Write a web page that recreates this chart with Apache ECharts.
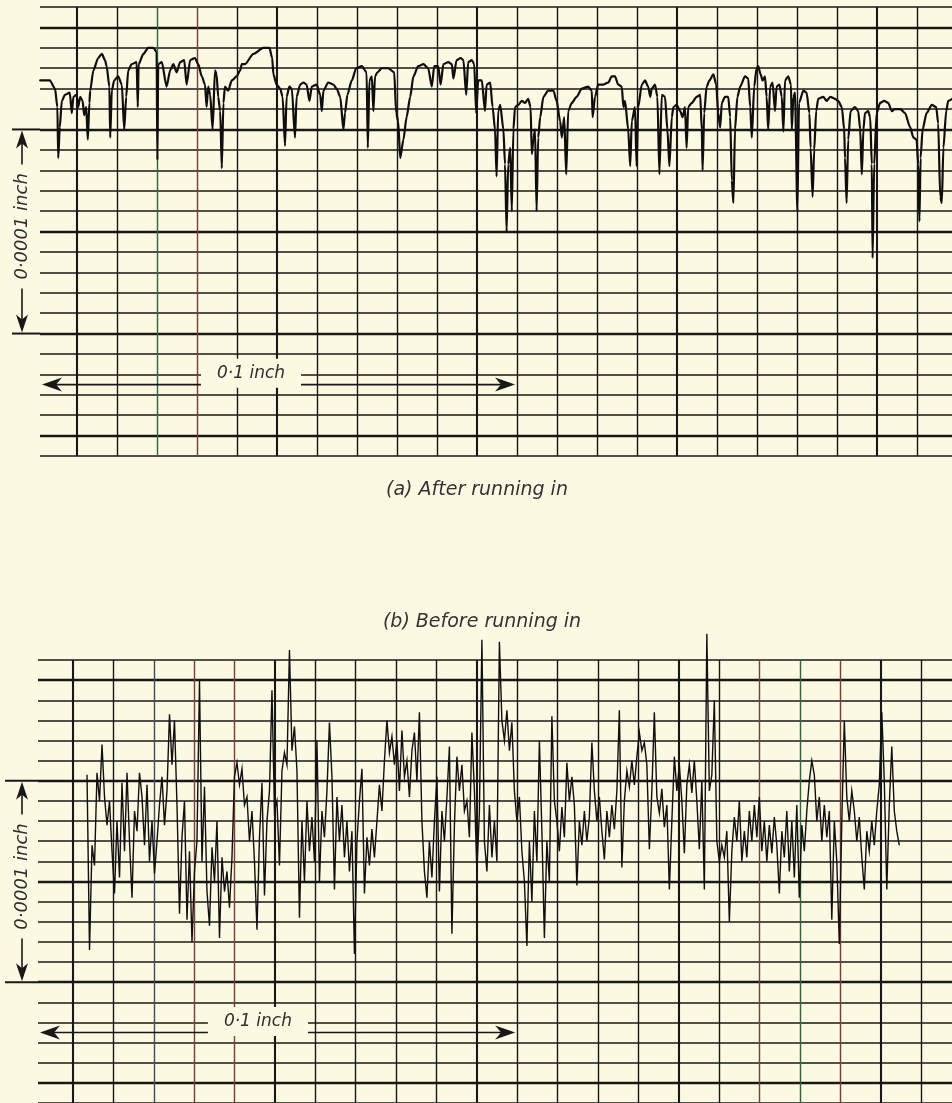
<!DOCTYPE html>
<html><head><meta charset="utf-8">
<script src="https://cdn.jsdelivr.net/npm/echarts@6/dist/echarts.min.js"></script>
<style>html,body{margin:0;padding:0;background:#fbf9e2;}#c{width:952px;height:1103px;}</style>
</head><body><div id="c"></div>
<script>
// ---- DATA (x in graph-paper divisions, y in micro-inches; 10 µin per division) ----
const TOP_PROFILE = [[-0.92,24],[-0.68,24],[-0.55,20],[-0.49,11],[-0.47,-14],[-0.43,1],[-0.38,14],[-0.30,17],[-0.18,18],[-0.13,8],[-0.09,16],[-0.01,17],[0.03,11],[0.08,16],[0.14,14],[0.18,7],[0.23,11],[0.27,-5],[0.31,13],[0.33,19],[0.41,29],[0.53,35],[0.62,37],[0.70,34],[0.74,31],[0.81,21],[0.83,-4],[0.87,19],[0.93,24],[1.03,26],[1.12,22],[1.18,0],[1.23,16],[1.28,29],[1.37,32],[1.49,33],[1.52,11],[1.54,32],[1.66,37],[1.78,40],[1.91,40],[1.99,38],[2.01,-15],[2.03,32],[2.12,33],[2.24,21],[2.33,29],[2.41,32],[2.49,28],[2.58,33],[2.68,34],[2.74,22],[2.83,34],[2.95,35],[3.03,32],[3.12,26],[3.20,22],[3.24,11],[3.28,21],[3.33,17],[3.39,0],[3.45,29],[3.49,27],[3.53,16],[3.58,9],[3.62,-19],[3.66,13],[3.70,21],[3.78,19],[3.87,24],[3.99,26],[4.08,29],[4.12,32],[4.20,32],[4.41,37],[4.66,40],[4.81,40],[4.88,35],[4.91,27],[4.99,22],[5.08,20],[5.14,16],[5.20,-8],[5.24,16],[5.31,21],[5.37,20],[5.45,-4],[5.49,16],[5.58,22],[5.66,23],[5.74,22],[5.81,14],[5.87,21],[5.99,22],[6.08,17],[6.12,9],[6.16,19],[6.28,23],[6.41,22],[6.49,20],[6.58,16],[6.66,0],[6.70,8],[6.76,17],[6.87,24],[6.98,30],[7.12,31],[7.24,28],[7.27,-9],[7.31,24],[7.37,26],[7.41,9],[7.45,26],[7.51,28],[7.62,30],[7.78,30],[7.93,28],[7.98,8],[8.03,4],[8.08,-14],[8.16,-5],[8.24,6],[8.33,16],[8.41,26],[8.53,31],[8.66,32],[8.78,30],[8.87,21],[8.93,31],[9.03,31],[9.09,22],[9.16,32],[9.28,33],[9.37,32],[9.41,25],[9.49,34],[9.59,35],[9.66,34],[9.73,17],[9.78,33],[9.87,34],[9.93,32],[9.98,8],[10.03,24],[10.12,24],[10.20,9],[10.24,22],[10.33,23],[10.39,11],[10.45,0],[10.49,-23],[10.53,9],[10.58,12],[10.66,0],[10.70,-17],[10.74,-50],[10.78,-17],[10.83,-9],[10.87,-40],[10.91,0],[10.95,11],[11.03,12],[11.12,14],[11.20,13],[11.28,15],[11.34,11],[11.37,-12],[11.41,-5],[11.45,0],[11.49,-40],[11.53,-4],[11.58,6],[11.66,16],[11.78,19],[11.91,19],[11.99,14],[12.08,4],[12.12,-4],[12.18,6],[12.23,-22],[12.28,9],[12.37,13],[12.49,16],[12.62,20],[12.78,21],[12.87,19],[12.89,6],[12.95,16],[13.03,22],[13.16,22],[13.28,23],[13.37,26],[13.45,26],[13.53,22],[13.62,21],[13.66,11],[13.70,14],[13.78,0],[13.83,-18],[13.87,4],[13.95,11],[13.99,-18],[14.03,11],[14.12,22],[14.20,24],[14.28,21],[14.33,16],[14.37,20],[14.45,22],[14.51,16],[14.56,-22],[14.62,17],[14.70,16],[14.76,0],[14.81,-18],[14.87,6],[14.91,11],[14.99,12],[15.08,9],[15.14,6],[15.20,11],[15.24,-9],[15.28,11],[15.37,13],[15.49,16],[15.58,17],[15.62,0],[15.64,-20],[15.68,8],[15.74,21],[15.81,24],[15.91,27],[15.98,22],[16.03,8],[16.08,1],[16.12,13],[16.20,16],[16.28,16],[16.33,6],[16.37,-25],[16.41,-36],[16.45,0],[16.51,16],[16.58,21],[16.70,26],[16.78,25],[16.83,11],[16.87,-4],[16.93,21],[16.99,30],[17.03,31],[17.09,27],[17.14,24],[17.20,26],[17.24,16],[17.28,0],[17.33,21],[17.39,23],[17.45,9],[17.49,21],[17.56,22],[17.62,16],[17.66,-1],[17.70,24],[17.78,26],[17.85,22],[17.87,0],[17.91,16],[17.95,18],[18.01,-40],[18.05,13],[18.16,19],[18.24,18],[18.31,8],[18.34,-9],[18.39,-33],[18.43,-10],[18.48,9],[18.53,15],[18.66,16],[18.74,14],[18.83,16],[18.95,15],[19.03,14],[19.12,11],[19.18,0],[19.20,-14],[19.24,-36],[19.28,-5],[19.34,9],[19.45,11],[19.53,9],[19.58,0],[19.62,-22],[19.66,0],[19.70,8],[19.78,9],[19.83,6],[19.87,-17],[19.89,-63],[19.93,-17],[19.99,8],[20.08,13],[20.18,14],[20.28,13],[20.37,9],[20.45,10],[20.58,10],[20.70,8],[20.83,1],[20.91,-4],[20.99,-5],[21.03,-17],[21.06,-45],[21.09,-14],[21.14,0],[21.24,8],[21.37,12],[21.48,11],[21.53,3],[21.58,-33],[21.62,-36],[21.66,-9],[21.73,9],[21.78,14],[21.88,15]];

// bottom trace: uniformly sampled stylus record, start position and step in divisions
const BOTTOM_X0 = 0.347;
const BOTTOM_DX = 0.0619;
const BOTTOM_PROFILE = [3,-84,-32,-42, 4,-10,18,-8, -22,-10,-35,-56, -20,-48,-1,-35, 4,-30,-58,-15, -25,4,-8,-32, -2,-40,-20,-46, -30,-12,2,-22, -5,33,8,30, -12,-66,-28,-10, -69,-35,-80,-45, -30,50,-40,-3, -55,-72,-33,-50, -20,-78,-38,-55, -45,-63,-38,2, 9,-2,6,-12, -8,-30,-15,-40, -74,-28,-1,-57, -20,-5,45,-15, -10,-42,5,14, 8,65,15,27, 5,-68,-20,-50, -10,-35,-18,-40, 20,-50,-15,-28, -5,29,2,-54, -8,-30,-12,-38, -20,-45,-25,-86, -30,-10,6,-56, -28,-42,-24,-38, -20,-2,-15,10, 30,14,22,8, 20,-5,25,2, 10,-8,15,24, 0,34,-20,-45, -58,-30,-48,-20, 2,-55,-15,-30, -8,17,-76,-22, 12,-5,8,-15, -10,-28,24,-5, -45,-15,70,-30, -45,-12,-38,-20, -40,69,30,20, 35,15,29,-5, -20,-8,-35,-50, -82,-30,-60,-15, -40,20,-25,-78, -30,-50,32,-10, -20,-35,-13,-28, 9,-10,2,-12, -52,-20,-32,-15, -30,-18,19,-5, -20,-8,-25,-39, -15,-28,-12,-24, -5,35,-43,-10, 5,-3,10,-2, 12,24,15,19, 8,-34,-5,34, -8,-16,-4,-23, -12,-54,-20,12, -5,8,-10,-36, -2,8,-6,10, -10,-34,0,-54, 73,-5,3,40, -30,-40,-32,-38, -25,-70,-35,-18, -30,-10,-40,-25, -38,-15,-30,-12, -28,-8,-35,-20, -40,-22,-36,-18, -32,-56,-25,-38, -15,-45,-20,-48, -12,-58,-22,-35, -15,0,10,3, -20,-8,-30,-12, -28,-15,-69,-20, -40,-81,-20,30, -8,-20,-5,-15, -30,-18,-38,-54, -25,-35,-20,-32, -15,-2,34,0, -54,-12,17,-15, -25,-32];

// graph paper rulings
const H_LINES = [60,50,40,30,20,10,0,-10,-20,-30,-40,-50,-60,-70,-80,-90,-100,-110,-120,-130,-140,-150,-160];
const V_LINES = [0,1,2,3,4,5,6,7,8,9,10,11,12,13,14,15,16,17,18,19,20,21];
const CAPTIONS = ['(a) After running in', '(b) Before running in'];
const SCALE_V_TEXT = '0·0001 inch';
const SCALE_H_TEXT = '0·1 inch';
const SCALE_H_LABEL_X = [4.35, 4.58];
const SCALE_H_END_X = 10.95;

// ---- STYLE ----
const BG = '#fbf9e2', INK = '#181818', RED = '#7a3d36', GREEN = '#36603f', BLUE = '#3e4c60';
const TINTS = [{2: GREEN, 3: RED}, {2: BLUE, 3: RED, 4: RED, 17: RED, 18: GREEN, 19: RED}];
const PANELS = [
  {left: 40, top: 7, height: 449, xMin: -0.925, xMax: 21.875, ext: 12},
  {left: 38, top: 660, height: 443, xMin: -0.867, xMax: 21.77, ext: 5}
];

function paperLines(p, tint) {
  const d = [];
  H_LINES.forEach(v => d.push({yAxis: v, lineStyle: {color: INK, width: v % 50 === 0 ? 2.3 : 1.5, type: 'solid'}}));
  d.push({xAxis: p.xMin, lineStyle: {color: INK, width: 1.7, type: 'solid'}});
  V_LINES.forEach(k => d.push({xAxis: k, lineStyle: {color: tint[k] || INK, width: k % 5 === 0 ? 2.1 : 1.4, type: 'solid'}}));
  return {silent: true, symbol: 'none', z: 1, animation: false, label: {show: false}, emphasis: {disabled: true}, data: d};
}

const chart = echarts.init(document.getElementById('c'), null, {renderer: 'canvas'});
const bottomData = BOTTOM_PROFILE.map((y, i) => [BOTTOM_X0 + i * BOTTOM_DX, y]);

chart.setOption({
  backgroundColor: BG,
  animation: false,
  grid: PANELS.map(p => ({left: p.left, top: p.top, right: 0, height: p.height})),
  xAxis: PANELS.map((p, i) => ({gridIndex: i, type: 'value', min: p.xMin, max: p.xMax, show: false})),
  yAxis: PANELS.map((p, i) => ({gridIndex: i, type: 'value', min: -160, max: 60, show: false})),
  series: [
    {type: 'line', xAxisIndex: 0, yAxisIndex: 0, data: TOP_PROFILE, symbol: 'none', clip: false, z: 10,
     smooth: 0.25, smoothMonotone: 'x',
     lineStyle: {color: '#0e0e0e', width: 2.2, join: 'round', cap: 'round'}, markLine: paperLines(PANELS[0], TINTS[0])},
    {type: 'line', xAxisIndex: 1, yAxisIndex: 1, data: bottomData, symbol: 'none', clip: false, z: 10,
     lineStyle: {color: '#101010', width: 1.4, join: 'miter'}, markLine: paperLines(PANELS[1], TINTS[1])}
  ]
});

// ---- annotations positioned through the axes ----
const line = (x1, y1, x2, y2, w) => ({type: 'line', silent: true, z: 100, shape: {x1, y1, x2, y2}, style: {stroke: INK, lineWidth: w}});
const poly = pts => ({type: 'polygon', silent: true, z: 100, shape: {points: pts}, style: {fill: INK}});
const FONT_V = 'italic 18px "DejaVu Sans"';
const FONT_H = 'italic 17px "DejaVu Sans"';
const FONT_CAP = 'italic 19px "DejaVu Sans"';
const TEXT_COL = '#2e2e2e';
const els = [];
PANELS.forEach((p, g) => {
  const P = (x, y) => chart.convertToPixel({gridIndex: g}, [x, y]);
  const [gl, y0] = P(p.xMin, 0);
  const y1 = P(p.xMin, -100)[1];
  els.push(line(p.ext, y0, gl, y0, 2), line(p.ext, y1, gl, y1, 2));
  const ax = 22, mid = y0 + (y1 - y0) * 0.475;
  els.push(poly([[ax, y0 + 1], [ax - 6, y0 + 19], [ax, y0 + 14], [ax + 6, y0 + 19]]));
  els.push(line(ax, y0 + 12, ax, mid - 62, 1.6));
  els.push({type: 'text', silent: true, z: 100, x: ax, y: mid, rotation: Math.PI / 2,
            style: {text: SCALE_V_TEXT, font: FONT_V, fill: TEXT_COL, align: 'center', verticalAlign: 'middle'}});
  els.push(line(ax, mid + 62, ax, y1 - 12, 1.6));
  els.push(poly([[ax, y1 - 1], [ax - 6, y1 - 19], [ax, y1 - 14], [ax + 6, y1 - 19]]));
  // horizontal 0.1 inch arrow
  const ya = P(0, -125)[1];
  const xa = gl + 2, xb = P(SCALE_H_END_X, 0)[0];
  els.push(line(xa + 10, ya, xb - 10, ya, 1.7));
  els.push(poly([[xa, ya], [xa + 20, ya - 7], [xa + 14, ya], [xa + 20, ya + 7]]));
  els.push(poly([[xb, ya], [xb - 20, ya - 7], [xb - 14, ya], [xb - 20, ya + 7]]));
  const [lx, ly] = P(SCALE_H_LABEL_X[g], -120);
  els.push({type: 'text', silent: true, z: 100, x: lx, y: ly - 1,
            style: {text: SCALE_H_TEXT, font: FONT_H, fill: TEXT_COL, align: 'center', verticalAlign: 'middle',
                    backgroundColor: BG, padding: [6, 16]}});
});
els.push({type: 'text', silent: true, z: 100, x: 477, y: 490,
          style: {text: CAPTIONS[0], font: FONT_CAP, fill: '#333', align: 'center', verticalAlign: 'middle'}});
els.push({type: 'text', silent: true, z: 100, x: 482, y: 622,
          style: {text: CAPTIONS[1], font: FONT_CAP, fill: '#333', align: 'center', verticalAlign: 'middle'}});
chart.setOption({graphic: {elements: els}});
</script>
</body></html>
